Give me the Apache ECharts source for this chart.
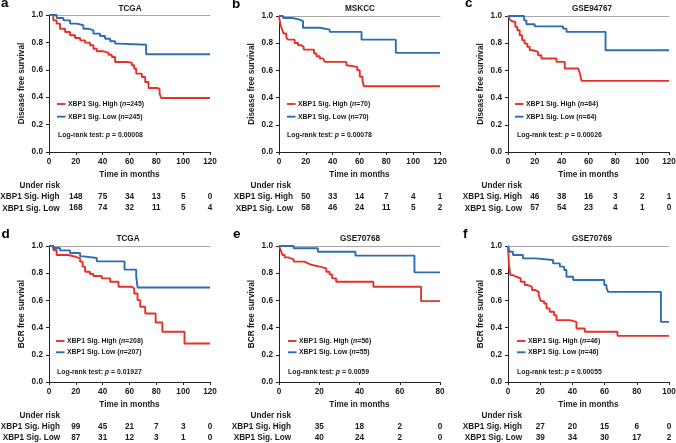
<!DOCTYPE html>
<html>
<head>
<meta charset="utf-8">
<script src="https://cdn.jsdelivr.net/npm/echarts@6/dist/echarts.min.js"></script>
<style>
  html, body { margin: 0; padding: 0; background: #fff; }
  #chart { width: 676px; height: 443px; }
</style>
</head>
<body>
<div id="chart"></div>
<script>
// Kaplan-Meier curves, [month, survival]
var aHigh = [[0,1],[3.2,0.961],[5.7,0.937],[8.2,0.9],[12,0.876],[15.7,0.852],[19.4,0.832],[23.2,0.815],[26.9,0.798],[30.6,0.779],[33.1,0.754],[35.6,0.735],[40.6,0.725],[44.3,0.71],[46.8,0.693],[49.3,0.657],[58,0.652],[61.7,0.633],[63.5,0.608],[65,0.572],[69.2,0.547],[71.7,0.511],[74.2,0.467],[80.4,0.462],[82.4,0.426],[83.6,0.394],[120,0.394]];
var aLow = [[0,1],[5.7,0.978],[10.7,0.961],[15.7,0.937],[20.7,0.925],[25.6,0.9],[29.4,0.888],[33.1,0.864],[38.1,0.847],[41.8,0.827],[45.6,0.808],[49.3,0.791],[51,0.783],[72.4,0.713],[120,0.713]];
var bHigh = [[0,1],[0.5,0.968],[1.2,0.932],[2.5,0.895],[3.5,0.871],[5.5,0.841],[6.7,0.826],[11.7,0.802],[14.2,0.785],[16.7,0.773],[18.4,0.753],[26.1,0.724],[27.9,0.704],[30.4,0.687],[32.9,0.675],[34.1,0.663],[50.3,0.638],[51.5,0.626],[58.3,0.601],[60.2,0.553],[62.2,0.528],[63.2,0.484],[120,0.484]];
var bLow = [[0,1],[3,0.985],[10,0.973],[15.4,0.963],[17.9,0.914],[30.4,0.9],[37.8,0.883],[61.5,0.826],[87.1,0.729],[120,0.729]];
var cHigh = [[0,1],[1.2,0.98],[2.5,0.963],[3.7,0.956],[5.5,0.919],[7,0.895],[8.7,0.858],[10.5,0.822],[12.4,0.797],[14.4,0.773],[16.2,0.748],[18.7,0.736],[22.4,0.711],[24.9,0.687],[36.1,0.663],[42.3,0.614],[52.3,0.601],[53.5,0.582],[54.8,0.523],[120,0.523]];
var cLow = [[0,1],[12,0.968],[13.7,0.939],[19.9,0.924],[41,0.907],[43.6,0.883],[72.7,0.748],[120,0.748]];
var dHigh = [[0,1],[3.2,0.971],[5.7,0.934],[14.4,0.922],[19.4,0.909],[23.2,0.885],[25.1,0.848],[26.9,0.811],[30.6,0.794],[33.1,0.779],[39.3,0.762],[45.6,0.737],[51.8,0.7],[61.7,0.688],[63.5,0.651],[66,0.602],[68,0.553],[71.7,0.504],[79.5,0.437],[84.5,0.369],[101,0.283],[120,0.283]];
var dLow = [[0,1],[3.2,0.985],[8.2,0.968],[15.7,0.948],[23.2,0.924],[25.6,0.912],[35.6,0.887],[56.3,0.826],[65,0.776],[66,0.695],[120,0.695]];
var eHigh = [[0,1],[0.8,0.971],[1.7,0.934],[2.8,0.916],[4.5,0.902],[7.3,0.885],[12.7,0.872],[14.4,0.86],[16.5,0.848],[20.2,0.835],[23.5,0.811],[25.1,0.791],[26.4,0.762],[28.4,0.737],[46.9,0.7],[70.6,0.595],[80,0.595]];
var eLow = [[0,1],[7.3,0.983],[19.3,0.958],[38,0.929],[67.3,0.806],[80,0.806]];
var fHigh = [[0,1],[0.6,0.86],[1.5,0.786],[3.1,0.774],[5.2,0.762],[7.9,0.737],[10.4,0.713],[12.4,0.7],[14.9,0.676],[17,0.663],[19.1,0.639],[20.3,0.595],[22.4,0.577],[23.9,0.541],[25.9,0.516],[28.6,0.491],[30.1,0.455],[38.4,0.442],[42.5,0.393],[47.7,0.369],[68,0.339],[100,0.339]];
var fLow = [[0,1],[1,0.958],[3.1,0.934],[9.3,0.909],[17,0.897],[28,0.872],[32.2,0.848],[34.9,0.823],[36.3,0.774],[40.5,0.75],[59.8,0.713],[61.2,0.688],[62.2,0.663],[95,0.442],[100,0.442]];

// numbers at risk, one per x tick after 0
var aRiskHigh = [148, 75, 34, 13, 5, 0];
var aRiskLow = [168, 74, 32, 11, 5, 4];
var bRiskHigh = [50, 33, 14, 7, 4, 1];
var bRiskLow = [58, 46, 24, 11, 5, 2];
var cRiskHigh = [46, 38, 16, 3, 2, 1];
var cRiskLow = [57, 54, 23, 4, 1, 0];
var dRiskHigh = [99, 45, 21, 7, 3, 0];
var dRiskLow = [87, 31, 12, 3, 1, 0];
var eRiskHigh = [35, 18, 2, 0];
var eRiskLow = [40, 24, 2, 0];
var fRiskHigh = [27, 20, 15, 6, 0];
var fRiskLow = [39, 34, 30, 17, 2];

var letters = ['a', 'b', 'c', 'd', 'e', 'f'];
var titles = ['TCGA', 'MSKCC', 'GSE94767', 'TCGA', 'GSE70768', 'GSE70769'];
var yNames = ['Disease free survival', 'Disease free survival', 'Disease free survival',
              'BCR free survival', 'BCR free survival', 'BCR free survival'];
var nHigh = [245, 70, 64, 208, 56, 46];
var nLow = [245, 70, 64, 207, 55, 46];
var pValues = ['0.00008', '0.00078', '0.00026', '0.01927', '0.0059', '0.00055'];
var xMax = [120, 120, 120, 120, 80, 100];

var highs = [aHigh, bHigh, cHigh, dHigh, eHigh, fHigh];
var lows = [aLow, bLow, cLow, dLow, eLow, fLow];
var riskHighs = [aRiskHigh, bRiskHigh, cRiskHigh, dRiskHigh, eRiskHigh, fRiskHigh];
var riskLows = [aRiskLow, bRiskLow, cRiskLow, dRiskLow, eRiskLow, fRiskLow];

var FONT = '"Liberation Sans", Arial, Helvetica, sans-serif';
var INK = '#1a1a1a';
var RED = '#e6302a';
var BLUE = '#2c6db5';

// where each panel sits
var layout = [
  {g: [49, 15, 161, 137], title: [130, 8.5], letter: [1, 10], leg: [57, 104, 12.7], lr: [58, 135], row: 59.5, under: 60, ry: [186, 196.7, 208.3]},
  {g: [279, 16, 161, 136], title: [360, 8.5], letter: [232, 11], leg: [287, 104, 12.7], lr: [287, 135], row: 293, under: 291, ry: [186, 196.7, 208.3]},
  {g: [508, 16, 161, 136], title: [592, 8.5], letter: [465, 10], leg: [515, 104, 12.7], lr: [517, 135], row: 522, under: 522, ry: [186, 196.7, 208.3]},
  {g: [49, 246, 161, 136], title: [128, 239], letter: [1.5, 241.5], leg: [56, 341, 11.3], lr: [57, 371.7], row: 60, under: 60, ry: [416, 426.7, 437.7]},
  {g: [279, 246, 161, 136], title: [360, 239], letter: [233, 241.5], leg: [288, 341, 11.3], lr: [288, 371.7], row: 291, under: 291, ry: [416, 426.7, 437.7]},
  {g: [508, 246, 161, 136], title: [592, 239], letter: [463, 241.5], leg: [517, 341, 11.3], lr: [517, 372], row: 522, under: 522, ry: [416, 426.7, 437.7]}
];

var grids = [], xAxes = [], yAxes = [], series = [], graphics = [];

function boldText(px) {
  return {fontFamily: FONT, fontWeight: 'bold', fontSize: px, color: INK};
}

function riskAxis(i, risk, offset) {
  return {
    gridIndex: i, type: 'value', position: 'bottom', offset: offset,
    min: 0, max: xMax[i], interval: 20,
    axisLine: {show: false}, axisTick: {show: false}, splitLine: {show: false},
    axisLabel: {
      margin: 0, fontFamily: FONT, fontWeight: 'bold', fontSize: 8.2, color: INK,
      formatter: function (v) {
        var k = Math.round(v / 20);
        return k === 0 ? '' : String(risk[k - 1]);
      }
    }
  };
}

for (var i = 0; i < 6; i++) {
  var L = layout[i];
  grids.push({left: L.g[0], top: L.g[1], width: L.g[2], height: L.g[3], outerBoundsMode: 'none'});

  // main bottom axis
  xAxes.push({
    gridIndex: i, type: 'value', position: 'bottom', min: 0, max: xMax[i], interval: 20,
    axisLine: {lineStyle: {color: '#222', width: 1}},
    axisTick: {show: true, length: 3, lineStyle: {color: '#222'}},
    splitLine: {show: false},
    axisLabel: Object.assign({margin: 6}, boldText(8.2)),
    name: 'Time in months', nameLocation: 'middle', nameGap: 19,
    nameTextStyle: boldText(8.2)
  });
  // grey top border
  xAxes.push({
    gridIndex: i, type: 'value', position: 'top', min: 0, max: xMax[i],
    axisLine: {lineStyle: {color: '#a8a8a8', width: 1}},
    axisTick: {show: false}, axisLabel: {show: false}, splitLine: {show: false}
  });
  xAxes.push(riskAxis(i, riskHighs[i], 40.5));
  xAxes.push(riskAxis(i, riskLows[i], 52));

  yAxes.push({
    gridIndex: i, type: 'value', min: 0, max: 1, interval: 0.2,
    axisLine: {show: true, lineStyle: {color: '#222', width: 1}},
    axisTick: {show: true, length: 3, lineStyle: {color: '#222'}},
    splitLine: {show: false},
    axisLabel: Object.assign({margin: 6, formatter: function (v) { return v.toFixed(1); }}, boldText(8.2)),
    name: yNames[i], nameLocation: 'middle', nameGap: 23, nameRotate: 90,
    nameTextStyle: boldText(8.2)
  });

  [[highs[i], RED], [lows[i], BLUE]].forEach(function (s) {
    series.push({
      type: 'line', xAxisIndex: i * 4, yAxisIndex: i, data: s[0], step: 'end',
      symbol: 'none', silent: true, animation: false,
      lineStyle: {color: s[1], width: 1.9}, itemStyle: {color: s[1]}
    });
  });

  // panel letter and title
  graphics.push({type: 'text', x: L.letter[0], y: L.letter[1], silent: true,
    style: {text: letters[i], fontFamily: FONT, fontWeight: 'bold', fontSize: 13.5, fill: '#000',
      textAlign: 'left', textVerticalAlign: 'bottom'}});
  graphics.push({type: 'text', x: L.title[0], y: L.title[1], silent: true,
    style: {text: titles[i], fontFamily: FONT, fontWeight: 'bold', fontSize: 8.2, fill: INK,
      textAlign: 'center', textVerticalAlign: 'middle'}});

  // legend
  var legRows = [['XBP1 Sig. High', nHigh[i], RED], ['XBP1 Sig. Low', nLow[i], BLUE]];
  legRows.forEach(function (r, k) {
    var y = L.leg[1] + k * L.leg[2];
    graphics.push({type: 'line', silent: true,
      shape: {x1: L.leg[0], y1: y, x2: L.leg[0] + 8.5, y2: y},
      style: {stroke: r[2], lineWidth: 1.9}});
    graphics.push({type: 'text', x: L.leg[0] + 11, y: y, silent: true,
      style: {
        text: '{t|' + r[0] + ' (}{i|n}{t|=' + r[1] + ')}',
        textVerticalAlign: 'middle', textAlign: 'left',
        rich: {
          t: {fontFamily: FONT, fontWeight: 'bold', fontSize: 6.9, fill: INK},
          i: {fontFamily: FONT, fontWeight: 'bold', fontStyle: 'italic', fontSize: 6.9, fill: INK}
        }
      }});
  });

  // log-rank p value
  graphics.push({type: 'text', x: L.lr[0], y: L.lr[1], silent: true,
    style: {
      text: '{t|Log-rank test: }{i|p}{t| = ' + pValues[i] + '}',
      textVerticalAlign: 'middle', textAlign: 'left',
      rich: {
        t: {fontFamily: FONT, fontWeight: 'bold', fontSize: 6.9, fill: INK},
        i: {fontFamily: FONT, fontWeight: 'bold', fontStyle: 'italic', fontSize: 6.9, fill: INK}
      }
    }});

  // risk table row labels
  graphics.push({type: 'text', x: L.under, y: L.ry[0], silent: true,
    style: {text: 'Under risk', fontFamily: FONT, fontWeight: 'bold', fontSize: 8.2, fill: INK,
      textAlign: 'right', textVerticalAlign: 'middle'}});
  graphics.push({type: 'text', x: L.row, y: L.ry[1], silent: true,
    style: {text: 'XBP1 Sig. High', fontFamily: FONT, fontWeight: 'bold', fontSize: 8.2, fill: INK,
      textAlign: 'right', textVerticalAlign: 'middle'}});
  graphics.push({type: 'text', x: L.row, y: L.ry[2], silent: true,
    style: {text: 'XBP1 Sig. Low', fontFamily: FONT, fontWeight: 'bold', fontSize: 8.2, fill: INK,
      textAlign: 'right', textVerticalAlign: 'middle'}});
}

var myChart = echarts.init(document.getElementById('chart'), null, {renderer: 'canvas'});
myChart.setOption({
  animation: false,
  backgroundColor: '#fff',
  grid: grids,
  xAxis: xAxes,
  yAxis: yAxes,
  series: series,
  graphic: graphics
});
</script>
</body>
</html>
